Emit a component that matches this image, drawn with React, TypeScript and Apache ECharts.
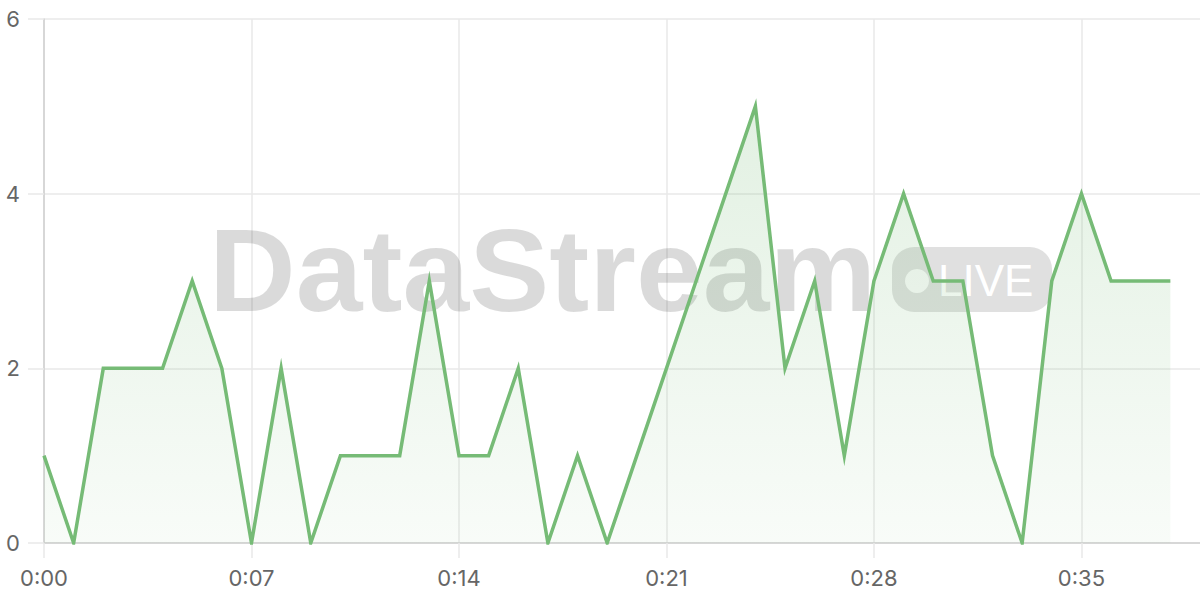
import React, { useEffect, useRef } from "react";
import * as echarts from "echarts";

const categories: string[] = [
  "0:00", "0:01", "0:02", "0:03", "0:04", "0:05", "0:06", "0:07", "0:08", "0:09",
  "0:10", "0:11", "0:12", "0:13", "0:14", "0:15", "0:16", "0:17", "0:18", "0:19",
  "0:20", "0:21", "0:22", "0:23", "0:24", "0:25", "0:26", "0:27", "0:28", "0:29",
  "0:30", "0:31", "0:32", "0:33", "0:34", "0:35", "0:36", "0:37", "0:38", "0:39",
];

const values: number[] = [
  1, 0, 2, 2, 2, 3, 2, 0, 2, 0,
  1, 1, 1, 3, 1, 1, 2, 0, 1, 0,
  1, 2, 3, 4, 5, 2, 3, 1, 3, 4,
  3, 3, 1, 0, 3, 4, 3, 3, 3,
];

const yMin = 0;
const yMax = 6;
const yStep = 2;
const xLabelEvery = 7;

const watermarkTitle = "DataStream";
const watermarkBadge = "LIVE";

export default function App() {
  const ref = useRef<HTMLDivElement>(null);

  useEffect(() => {
    document.body.style.margin = "0";
    if (!ref.current) return;
    const chart = echarts.init(ref.current, undefined, { renderer: "svg" });
    const gridColor = "#e8e8e8";
    const axisColor = "#cfcfcf";
    const labelColor = "#666666";
    const font = "Inter, 'Noto Sans', sans-serif";

    chart.setOption({
      animation: false,
      backgroundColor: "#ffffff",
      grid: { left: 44, right: 0, top: 19, bottom: 57, containLabel: false },
      xAxis: {
        type: "category",
        data: categories,
        boundaryGap: false,
        axisLine: { show: true, lineStyle: { color: axisColor, width: 1.5 } },
        axisTick: {
          show: true,
          length: 15,
          interval: xLabelEvery - 1,
          lineStyle: { color: gridColor, width: 1.5 },
        },
        axisLabel: {
          interval: xLabelEvery - 1,
          color: labelColor,
          fontSize: 22,
          fontFamily: font,
          margin: 24,
        },
        splitLine: {
          show: true,
          interval: xLabelEvery - 1,
          lineStyle: { color: gridColor, width: 1.5 },
        },
      },
      yAxis: {
        type: "value",
        min: yMin,
        max: yMax,
        interval: yStep,
        axisLine: { show: true, lineStyle: { color: axisColor, width: 1.5 } },
        axisTick: { show: true, length: 16, lineStyle: { color: gridColor, width: 1.5 } },
        axisLabel: {
          color: labelColor,
          fontSize: 22,
          fontFamily: font,
          margin: 24,
        },
        splitLine: { show: true, lineStyle: { color: gridColor, width: 1.5 } },
      },
      graphic: [
        {
          type: "text",
          z: 1,
          x: 209,
          y: 271,
          scaleX: 1.035,
          style: {
            text: watermarkTitle,
            x: 0,
            y: 0,
            fill: "rgba(0,0,0,0.145)",
            font: "bold 116px 'Liberation Sans', Arial, sans-serif",
            textAlign: "left",
            textVerticalAlign: "middle",
          },
        },
        {
          type: "rect",
          z: 1,
          shape: { x: 892, y: 247, width: 160, height: 65, r: 22 },
          style: { fill: "rgba(0,0,0,0.12)" },
        },
        {
          type: "circle",
          z: 1,
          shape: { cx: 917, cy: 281, r: 12 },
          style: { fill: "rgba(255,255,255,0.85)" },
        },
        {
          type: "text",
          z: 1,
          style: {
            text: watermarkBadge,
            x: 938,
            y: 280,
            fill: "#ffffff",
            font: "44px 'Liberation Sans', Arial, sans-serif",
            textAlign: "left",
            textVerticalAlign: "middle",
          },
        },
      ],
      series: [
        {
          type: "line",
          data: values,
          showSymbol: false,
          symbol: "none",
          z: 2,
          lineStyle: { color: "#76bb76", width: 3.5, join: "miter", miterLimit: 20 },
          areaStyle: {
            color: new echarts.graphic.LinearGradient(0, 0, 0, 1, [
              { offset: 0, color: "rgba(118,187,118,0.30)" },
              { offset: 1, color: "rgba(118,187,118,0.07)" },
            ]),
          },
        },
      ],
    });

    return () => chart.dispose();
  }, []);

  return (
    <div
      ref={ref}
      style={{ position: "fixed", left: 0, top: 0, width: 1200, height: 600 }}
    />
  );
}
